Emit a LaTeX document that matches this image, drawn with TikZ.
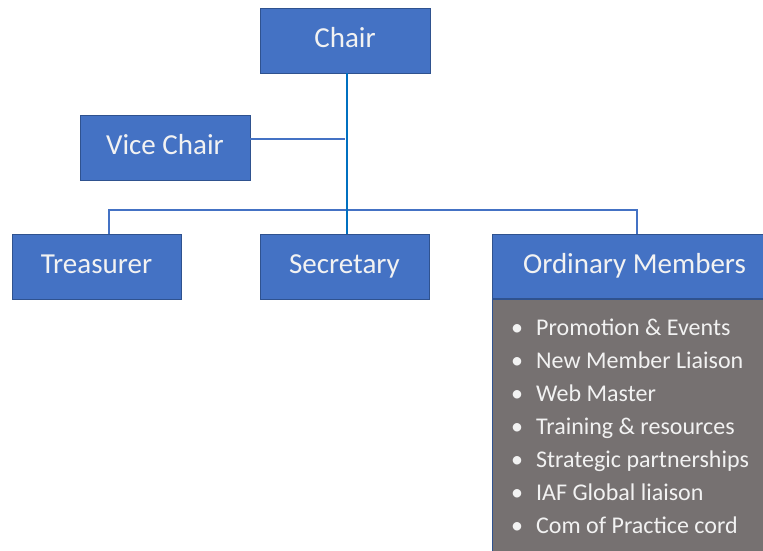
\documentclass[tikz,border=0pt]{standalone}
\usepackage{fontspec}
\setmainfont{Carlito}
\usetikzlibrary{positioning}
\definecolor{BoxBlue}{HTML}{4472C4}
\definecolor{EdgeBlue}{HTML}{2F528F}
\definecolor{TrunkBlue}{HTML}{0070C0}
\definecolor{StoneGrey}{HTML}{767171}

\begin{document}
\begin{tikzpicture}[x=1pt, y=1pt,
    role/.style={draw=EdgeBlue, fill=BoxBlue, text=white!95!black, minimum width=170pt, minimum height=65pt, font=\fontsize{29}{33}\selectfont, text height=20pt, text depth=6pt, line width=0.8pt},
    duty/.style={text=white!95!black, font=\fontsize{24}{28}\selectfont, anchor=west, inner sep=0pt, text height=17pt, text depth=5pt},
    link/.style={draw=BoxBlue, line width=2pt},
    trunk/.style={draw=TrunkBlue, line width=2.6pt}]
    \useasboundingbox (0,0) rectangle (763,-550);
    \clip (0,0) rectangle (763,-550);

    % Cajas de cargos
    \node[role] (chair) at (345,-40.5) {Chair};
    \node[role] (vice) at (165,-147.5) {Vice Chair};
    \node[role, minimum width=169pt] (treas) at (96.5,-266.5) {Treasurer};
    \node[role, minimum width=169pt] (secr) at (344.5,-266.5) {Secretary};
    \node[role, minimum width=285pt, minimum height=64pt] (ordin) at (634.5,-266.5) {Ordinary Members};

    % Lista de tareas
    \node[draw=EdgeBlue, fill=StoneGrey, minimum width=285pt, minimum height=270pt, anchor=north, line width=0.8pt] (tasks) at (ordin.south) {};
    \foreach \i/\txt in {0/Promotion \& Events, 1/New Member Liaison, 2/Web Master, 3/Training \& resources, 4/Strategic partnerships, 5/IAF Global liaison, 6/Com of Practice cord}
        \node[duty] (task\i) at (511,-329-33*\i) {\makebox[25pt][l]{•}\txt};

    % Lineas
    \coordinate (junct) at (chair.south |- 0,-139);
    \coordinate (bus) at (chair.south |- 0,-210);
    \draw[link] ([yshift=8.5pt]vice.east) -- (junct);
    \draw[link] ([xshift=12.5pt]treas.north) |- (bus) -| ([xshift=2.5pt]ordin.north);
    \draw[trunk] ([xshift=2pt]chair.south) -- ([xshift=2.5pt]secr.north);
\end{tikzpicture}
\end{document}
